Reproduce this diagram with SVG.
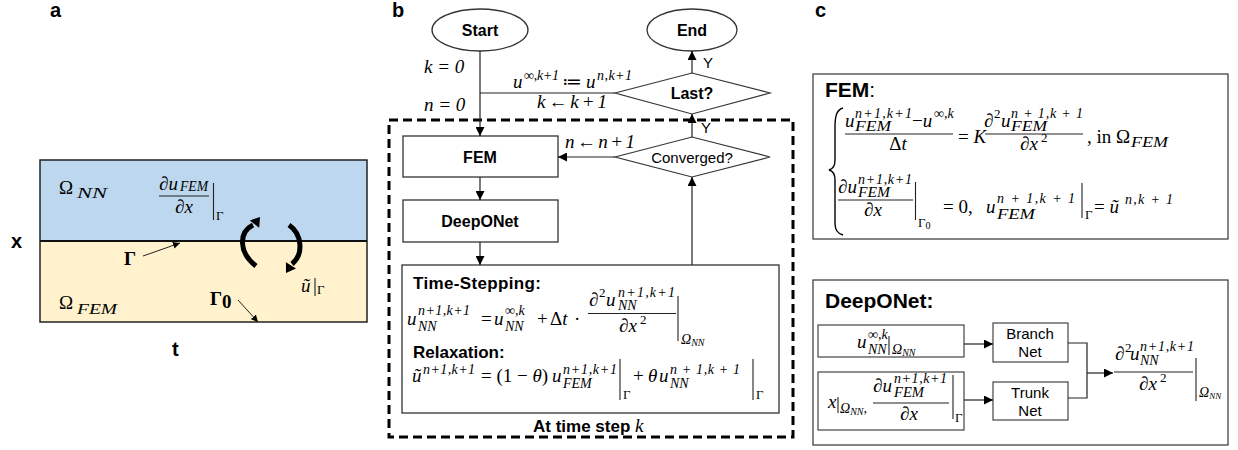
<svg xmlns="http://www.w3.org/2000/svg" width="1238" height="450" viewBox="0 0 1238 450">
<style>
text{fill:#000}
.lbl{font-family:"Liberation Sans",Arial,sans-serif;font-weight:bold;font-size:20px}
.bt{font-family:"Liberation Sans",Arial,sans-serif;font-weight:bold;font-size:16px}
.nt{font-family:"Liberation Sans",Arial,sans-serif;font-size:15px}
.hd{font-family:"Liberation Sans",Arial,sans-serif;font-weight:bold;font-size:17px}
.hc{font-family:"Liberation Sans",Arial,sans-serif;font-weight:bold;font-size:21px}
.m{font-family:"Liberation Serif","DejaVu Serif",serif;font-style:italic;font-size:19px}
.r{font-family:"Liberation Serif","DejaVu Serif",serif;font-size:19px}
.s{font-family:"Liberation Serif","DejaVu Serif",serif;font-style:italic;font-size:14px}
.sr{font-family:"Liberation Serif","DejaVu Serif",serif;font-size:13px}
.i{font-style:italic}
.box{fill:#fff;stroke:#333;stroke-width:1.3}
.cbox{fill:#fff;stroke:#444;stroke-width:1.2}
.ln{fill:none;stroke:#222;stroke-width:1.2}
.bar{stroke:#222;stroke-width:1.1}
</style>
<defs>
<marker id="ah" viewBox="0 0 10 10" refX="10" refY="5" markerWidth="9" markerHeight="9" markerUnits="userSpaceOnUse" orient="auto"><path d="M0,0 L10,5 L0,10 z" fill="#000"/></marker>
<marker id="ahs" viewBox="0 0 10 10" refX="10" refY="5" markerWidth="7" markerHeight="7" markerUnits="userSpaceOnUse" orient="auto"><path d="M0,0 L10,5 L0,10 z" fill="#000"/></marker>
</defs>

<!-- panel labels -->
<text class="lbl" x="50" y="17">a</text>
<text class="lbl" x="392" y="17">b</text>
<text class="lbl" x="815" y="17">c</text>

<!-- ===== Panel a ===== -->
<g id="domain">
<rect x="40" y="160" width="327" height="81" fill="#BDD7EE"/>
<rect x="40" y="241" width="327" height="81" fill="#FFF2CC"/>
<rect x="40" y="160" width="327" height="162" fill="none" stroke="#222" stroke-width="1.5"/>
<line x1="40" y1="241" x2="367" y2="241" stroke="#111" stroke-width="2"/>
<text class="lbl" x="11" y="248">x</text>
<text class="lbl" x="172" y="356">t</text>
<text class="r" x="59" y="194" font-size="26">Ω</text>
<text class="s" x="77" y="198" font-size="19" textLength="30" lengthAdjust="spacingAndGlyphs">NN</text>
<text class="r" x="59" y="309" font-size="26">Ω</text>
<text class="s" x="77" y="314" font-size="19" textLength="40" lengthAdjust="spacingAndGlyphs">FEM</text>
<text class="m" x="159" y="190" font-size="16">∂u</text>
<text class="s" x="180" y="191" font-size="10" textLength="28" lengthAdjust="spacingAndGlyphs">FEM</text>
<line x1="159" y1="196" x2="209" y2="196" class="bar"/>
<text class="m" x="175" y="213" font-size="16">∂x</text>
<line x1="213.5" y1="183" x2="213.5" y2="220" class="bar"/>
<text class="sr" x="216" y="220" font-size="11">Γ</text>
<text class="r" x="124" y="265" font-size="19" font-weight="bold">Γ</text>
<line x1="143" y1="256" x2="180" y2="243" stroke="#222" stroke-width="1" marker-end="url(#ahs)"/>
<text class="r" x="210" y="305" font-size="19" font-weight="bold">Γ</text>
<text class="r" x="222" y="308" font-size="13" font-weight="bold">0</text>
<line x1="238" y1="300" x2="258" y2="322" stroke="#222" stroke-width="1" marker-end="url(#ahs)"/>
<text class="m" x="301" y="292" font-size="20">ũ</text>
<line x1="315" y1="278" x2="315" y2="296" class="bar"/>
<text class="sr" x="317" y="294" font-size="13">Γ</text>
<path d="M256,266 C238,252 239,232 253,225" fill="none" stroke="#000" stroke-width="5"/>
<polygon points="260,217 259.2,227.8 249.8,220.4" fill="#000"/>
<path d="M289,225 C302,234 304,254 292,264" fill="none" stroke="#000" stroke-width="5"/>
<polygon points="286,273 296,268.6 285.9,262.2" fill="#000"/>
</g>

<!-- ===== Panel b ===== -->
<g id="loop-box">
<rect x="389" y="120" width="404" height="317" fill="none" stroke="#000" stroke-width="3" stroke-dasharray="9 5"/>
<text class="hd" x="533" y="432">At time step <tspan class="m" font-weight="normal" font-size="19">k</tspan></text>
</g>
<g id="start">
<ellipse cx="480" cy="30" rx="48" ry="21" fill="#fff" stroke="#333" stroke-width="1.3"/>
<text class="bt" x="480" y="36" text-anchor="middle">Start</text>
</g>
<g id="end">
<ellipse cx="692" cy="30" rx="45" ry="21" fill="#fff" stroke="#333" stroke-width="1.3"/>
<text class="bt" x="692" y="36" text-anchor="middle">End</text>
</g>
<g id="last">
<polygon points="615,93 692,73 770,93 692,114" fill="#fff" stroke="#333" stroke-width="1.2"/>
<text class="bt" x="692" y="99" text-anchor="middle">Last?</text>
</g>
<g id="converged">
<polygon points="615,157 692,137 770,157 692,177" fill="#fff" stroke="#333" stroke-width="1.2"/>
<text class="nt" x="692" y="163" text-anchor="middle">Converged?</text>
</g>
<g id="fem">
<rect x="403" y="136" width="155" height="41" class="box"/>
<text class="bt" x="480" y="163" text-anchor="middle">FEM</text>
</g>
<g id="deeponet">
<rect x="403" y="200" width="155" height="42" class="box"/>
<text class="bt" x="480" y="227" text-anchor="middle">DeepONet</text>
</g>
<g id="update">
<rect x="402" y="265" width="377" height="148" class="box"/>
<text class="hd" x="413" y="289" textLength="128">Time-Stepping:</text>
<text class="m" x="407" y="325">u</text>
<text class="s" x="418" y="315" textLength="52">n+1,k+1</text>
<text class="s" x="418" y="331">NN</text>
<text class="r" x="481" y="325">=</text>
<text class="m" x="494" y="325">u</text>
<text class="s" x="505" y="315">∞,k</text>
<text class="s" x="505" y="331">NN</text>
<text class="r" x="537" y="325">+</text>
<text class="r" x="550" y="325">Δ<tspan class="i">t</tspan></text>
<text class="r" x="574" y="325">·</text>
<text class="m" x="589" y="306">∂</text>
<text class="sr" x="599" y="297" font-size="12">2</text>
<text class="m" x="606" y="306">u</text>
<text class="s" x="618" y="297" textLength="57">n+1,k+1</text>
<text class="s" x="618" y="310">NN</text>
<line x1="588" y1="313.5" x2="676" y2="313.5" class="bar"/>
<text class="m" x="619" y="332">∂x</text>
<text class="sr" x="640" y="324" font-size="12">2</text>
<line x1="678" y1="296" x2="678" y2="341" class="bar"/>
<text class="s" x="681" y="344" font-size="13">Ω<tspan font-size="10" dy="2">NN</tspan></text>
<text class="hd" x="413" y="358">Relaxation:</text>
<text class="m" x="412" y="382">ũ</text>
<text class="s" x="423" y="374" textLength="52">n+1,k+1</text>
<text class="r" x="481" y="382">= (1 − <tspan class="i">θ</tspan>)</text>
<text class="m" x="552" y="382">u</text>
<text class="s" x="563" y="374" textLength="54">n+1,k+1</text>
<text class="s" x="563" y="388">FEM</text>
<line x1="620" y1="359" x2="620" y2="400" class="bar"/>
<text class="sr" x="623" y="399">Γ</text>
<text class="r" x="633" y="382">+</text>
<text class="m" x="648" y="382">θ</text>
<text class="m" x="659" y="382">u</text>
<text class="s" x="670" y="374" textLength="70">n + 1,k + 1</text>
<text class="s" x="670" y="388">NN</text>
<line x1="753" y1="359" x2="753" y2="400" class="bar"/>
<text class="sr" x="756" y="399">Γ</text>
</g>

<!-- ===== Panel c ===== -->
<g id="fem-eq">
<rect x="813" y="74" width="415" height="165" fill="#fff" stroke="#444" stroke-width="1.3"/>
<text class="hc" x="825" y="97">FEM<tspan font-weight="normal">:</tspan></text>
<path d="M843,108 C836,110 835,117 835,128 L835,160 C835,166 833,169 829,170 C833,171 835,174 835,180 L835,222 C835,230 837,233 843,235" fill="none" stroke="#000" stroke-width="1.4"/>
<text class="m" x="845" y="127">u</text>
<text class="s" x="855" y="118" textLength="57">n+1,k+1</text>
<text class="s" x="855" y="131" textLength="36" lengthAdjust="spacingAndGlyphs">FEM</text>
<text class="r" x="912" y="127">−<tspan class="i">u</tspan></text>
<text class="s" x="934" y="118">∞,k</text>
<line x1="845" y1="134" x2="953" y2="134" class="bar"/>
<text class="r" x="898" y="150" text-anchor="middle">Δ<tspan class="i">t</tspan></text>
<text class="r" x="958" y="143">= <tspan class="i">K</tspan></text>
<text class="m" x="984" y="127">∂</text>
<text class="sr" x="994" y="118" font-size="12">2</text>
<text class="m" x="1001" y="127">u</text>
<text class="s" x="1011" y="118" textLength="72">n + 1,k + 1</text>
<text class="s" x="1011" y="131" textLength="36" lengthAdjust="spacingAndGlyphs">FEM</text>
<line x1="985" y1="134" x2="1083" y2="134" class="bar"/>
<text class="m" x="1020" y="150">∂x</text>
<text class="sr" x="1041" y="142" font-size="12">2</text>
<text class="r" x="1087" y="143">, in Ω</text>
<text class="s" x="1131" y="147" font-size="15" textLength="37" lengthAdjust="spacingAndGlyphs">FEM</text>
<text class="m" x="838" y="193">∂u</text>
<text class="s" x="858" y="184" textLength="54">n+1,k+1</text>
<text class="s" x="858" y="197" textLength="32" lengthAdjust="spacingAndGlyphs">FEM</text>
<line x1="838" y1="200" x2="913" y2="200" class="bar"/>
<text class="m" x="864" y="216">∂x</text>
<line x1="915.5" y1="182" x2="915.5" y2="220" class="bar"/>
<text class="sr" x="918" y="227" font-size="14">Γ<tspan font-size="10" dy="2">0</tspan></text>
<text class="r" x="943" y="213">= 0,</text>
<text class="m" x="986" y="213">u</text>
<text class="s" x="997" y="203" textLength="78">n + 1,k + 1</text>
<text class="s" x="997" y="219" textLength="38" lengthAdjust="spacingAndGlyphs">FEM</text>
<line x1="1082" y1="183" x2="1082" y2="218" class="bar"/>
<text class="sr" x="1085" y="219">Γ</text>
<text class="r" x="1094" y="213">= <tspan class="i">ũ</tspan></text>
<text class="s" x="1125" y="204" textLength="48">n,k + 1</text>
</g>

<g id="deeponet-panel">
<rect x="813" y="280" width="415" height="165" fill="#fff" stroke="#444" stroke-width="1.3"/>
<text class="hc" x="825" y="308">DeepONet:</text>
</g>
<g id="input-u">
<rect x="818" y="325" width="146" height="32" class="cbox"/>
<text class="m" x="857" y="348">u</text>
<text class="s" x="868" y="339">∞,k</text>
<text class="s" x="868" y="354">NN</text>
<line x1="889" y1="336" x2="889" y2="355" class="bar"/>
<text class="s" x="892" y="354" font-size="13">Ω<tspan font-size="10" dy="2">NN</tspan></text>
</g>
<g id="input-x">
<rect x="818" y="372" width="146" height="58" class="cbox"/>
<text class="m" x="828" y="408">x</text>
<line x1="838" y1="397" x2="838" y2="413" class="bar"/>
<text class="s" x="840" y="413" font-size="13">Ω<tspan font-size="10" dy="2">NN</tspan><tspan dy="-2">,</tspan></text>
<text class="m" x="873" y="392">∂u</text>
<text class="s" x="894" y="383" textLength="53">n+1,k+1</text>
<text class="s" x="894" y="397" textLength="30" lengthAdjust="spacingAndGlyphs">FEM</text>
<line x1="873" y1="403" x2="949" y2="403" class="bar"/>
<text class="m" x="900" y="420">∂x</text>
<line x1="953" y1="375" x2="953" y2="419" class="bar"/>
<text class="sr" x="955" y="422">Γ</text>
</g>
<g id="branch">
<rect x="993" y="323" width="75" height="39" class="cbox"/>
<text class="nt" x="1030" y="339" font-size="16" text-anchor="middle">Branch</text>
<text class="nt" x="1030" y="357" font-size="16" text-anchor="middle">Net</text>
</g>
<g id="trunk">
<rect x="993" y="382" width="75" height="38" class="cbox"/>
<text class="nt" x="1030" y="398" font-size="16" text-anchor="middle">Trunk</text>
<text class="nt" x="1030" y="416" font-size="16" text-anchor="middle">Net</text>
</g>
<g id="output">
<text class="m" x="1115" y="360">∂</text>
<text class="sr" x="1125" y="352" font-size="12">2</text>
<text class="m" x="1130" y="360">u</text>
<text class="s" x="1140" y="351" textLength="54">n+1,k+1</text>
<text class="s" x="1140" y="365">NN</text>
<line x1="1114" y1="372" x2="1193" y2="372" class="bar"/>
<text class="m" x="1139" y="390">∂x</text>
<text class="sr" x="1160" y="382" font-size="12">2</text>
<line x1="1196" y1="358" x2="1196" y2="401" class="bar"/>
<text class="s" x="1199" y="397" font-size="12">Ω<tspan font-size="9" dy="2">NN</tspan></text>
</g>

<g id="connectors">
<line x1="480" y1="51" x2="480" y2="136" class="ln" marker-end="url(#ah)"/>
<line x1="615" y1="93" x2="480" y2="93" class="ln"/>
<line x1="692" y1="73" x2="692" y2="51" class="ln" marker-end="url(#ah)"/>
<line x1="692" y1="137" x2="692" y2="114" class="ln" marker-end="url(#ah)"/>
<line x1="615" y1="157" x2="558" y2="157" class="ln" marker-end="url(#ah)"/>
<line x1="480" y1="177" x2="480" y2="200" class="ln" marker-end="url(#ah)"/>
<line x1="480" y1="242" x2="480" y2="265" class="ln" marker-end="url(#ah)"/>
<line x1="692" y1="265" x2="692" y2="177" class="ln" marker-end="url(#ah)"/>
<line x1="964" y1="344" x2="993" y2="344" class="ln" marker-end="url(#ah)"/>
<line x1="964" y1="400" x2="993" y2="400" class="ln" marker-end="url(#ah)"/>
<polyline points="1068,343 1087,343 1087,398 1068,398" class="ln"/>
<line x1="1087" y1="373" x2="1113" y2="373" class="ln" marker-end="url(#ah)"/>
<text class="nt" x="703" y="68" font-size="14">Y</text>
<text class="nt" x="701" y="133" font-size="14">Y</text>
<text class="m" x="424" y="73">k <tspan class="r">= 0</tspan></text>
<text class="m" x="424" y="111">n <tspan class="r">= 0</tspan></text>
<text class="m" x="513" y="88">u</text>
<text class="s" x="524" y="80" textLength="35">∞,k+1</text>
<text class="r" x="562" y="88">≔</text>
<text class="m" x="586" y="88">u</text>
<text class="s" x="597" y="80" textLength="35">n,k+1</text>
<text class="m" x="537" y="108" textLength="70">k <tspan class="r">←</tspan> k <tspan class="r">+ 1</tspan></text>
<text class="m" x="565" y="148" textLength="70">n <tspan class="r">←</tspan> n <tspan class="r">+ 1</tspan></text>
</g>
</svg>
